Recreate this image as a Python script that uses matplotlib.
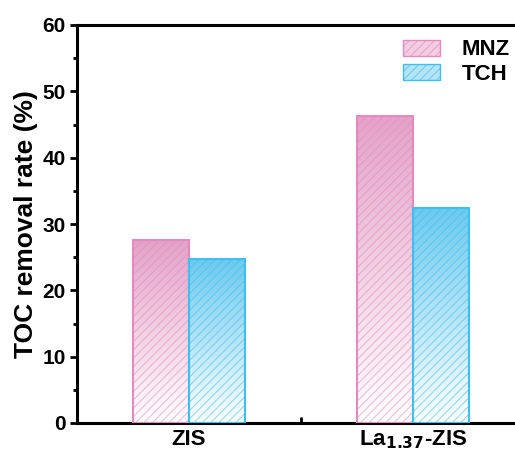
import numpy as np
import matplotlib.pyplot as plt
from matplotlib.patches import Patch
from matplotlib.colors import LinearSegmentedColormap, to_rgb

plt.rcParams['font.family'] = ['Liberation Sans', 'DejaVu Sans']
plt.rcParams['font.weight'] = 'bold'
plt.rcParams['hatch.linewidth'] = 0.8

categories = ['ZIS', 'La$_{1.37}$-ZIS']
series = ['MNZ', 'TCH']
mnz = [27.6, 46.3]
tch = [24.7, 32.4]

face_cols = ['#e4a2c8', '#6ccaf0']
edge_cols = ['#e48ac0', '#3fbfee']
width = 0.25

fig = plt.figure(figsize=(5.15, 4.55), dpi=100)
ax = fig.add_axes([77/515, 1 - 423/455, 448/515, 398/455])

x = np.arange(len(categories))
for k, (vals, fc, ec) in enumerate(zip([mnz, tch], face_cols, edge_cols)):
    cmap = LinearSegmentedColormap.from_list('g%d' % k, ['white', fc])
    offs = -width/2 if k == 0 else width/2
    bars = ax.bar(x + offs, vals, width, facecolor='none', edgecolor=ec,
                  linewidth=1.5, hatch='////', zorder=3, label=series[k])
    for b in bars:
        b._hatch_color = tuple(list(to_rgb(ec)) + [0.55])
        x0, y0 = b.get_x(), b.get_y()
        w, h = b.get_width(), b.get_height()
        grad = np.linspace(0, 1, 256).reshape(-1, 1)
        im = ax.imshow(grad, cmap=cmap, origin='lower', aspect='auto',
                       extent=[x0, x0 + w, y0, y0 + h], zorder=2, vmin=0, vmax=1)
        im.set_clip_path(b)

ax.set_xlim(-0.5, 1.5)
ax.set_ylim(0, 60)
ax.set_xticks(x)
ax.set_xticklabels(categories, fontsize=16, fontweight='bold')
ax.set_xticks([0.5], minor=True)
ax.set_yticks(np.arange(0, 61, 10))
ax.set_yticks(np.arange(0, 61, 5), minor=True)
ax.tick_params(axis='y', labelsize=15, width=2, length=5, direction='out', pad=3)
ax.tick_params(axis='y', which='minor', width=2, length=3)
ax.tick_params(axis='x', which='both', width=2, length=4, direction='in', labelsize=16, pad=4)
ax.set_ylabel('TOC removal rate (%)', fontsize=19, fontweight='bold', labelpad=3)
for s in ['left', 'top', 'bottom']:
    ax.spines[s].set_linewidth(2.2)
ax.spines['right'].set_visible(False)

handles = [Patch(facecolor='#f3cde2', edgecolor=edge_cols[0], hatch='////', label='MNZ'),
           Patch(facecolor='#b5e4f7', edgecolor=edge_cols[1], hatch='////', label='TCH')]
for h, ec in zip(handles, edge_cols):
    h._hatch_color = tuple(list(to_rgb(ec)) + [0.6])
leg = ax.legend(handles=handles, loc='upper left', bbox_to_anchor=(0.696, 1.0),
                frameon=False, prop={'size': 16, 'weight': 'bold'},
                handlelength=1.67, handleheight=0.75, handletextpad=0.95, labelspacing=0.15,
                borderpad=0.15)

fig.savefig('out.png', dpi=100)
